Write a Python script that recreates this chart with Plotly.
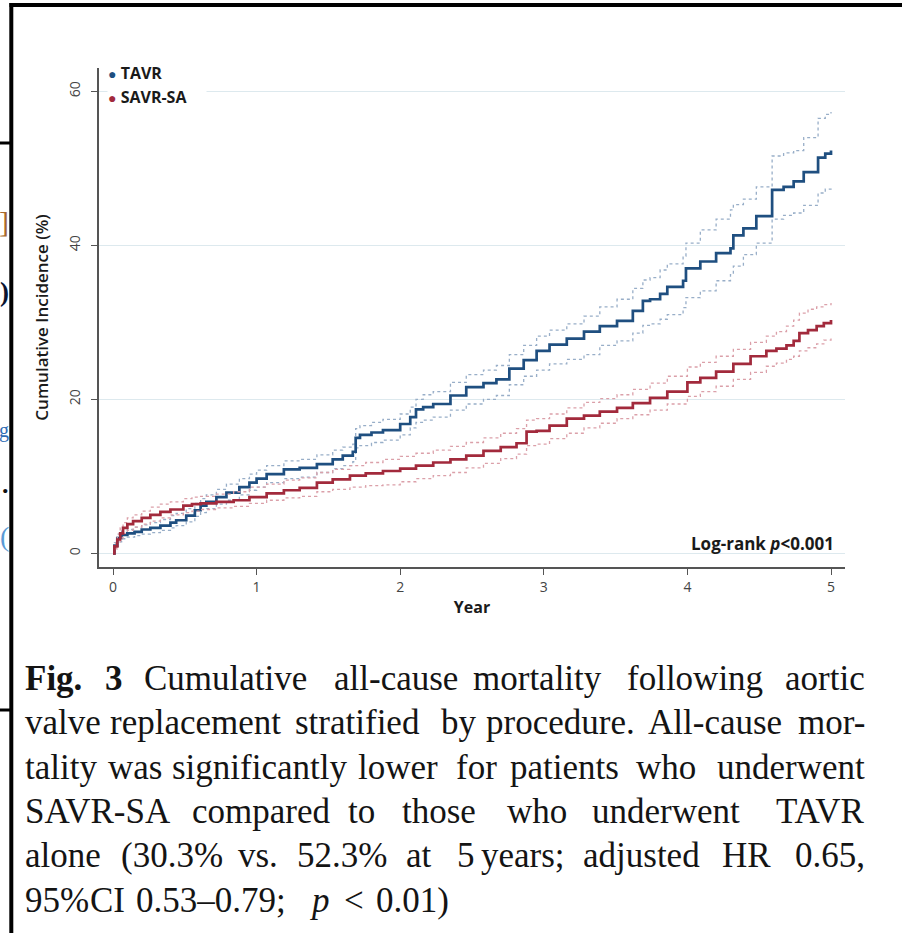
import plotly.graph_objects as go

# ---------------- data ----------------
tavr_years = [0, 0.01, 0.03, 0.06, 0.10, 0.15, 0.20, 0.26, 0.33, 0.40,
              0.44, 0.51, 0.57, 0.61, 0.65, 0.72, 0.79, 0.88, 0.95, 1.00,
              1.07, 1.19, 1.30, 1.42, 1.53, 1.60, 1.67, 1.69, 1.72, 1.80,
              1.88, 2.00, 2.07, 2.11, 2.16, 2.23, 2.35, 2.46, 2.58, 2.67,
              2.76, 2.86, 2.95, 3.04, 3.16, 3.28, 3.39, 3.51, 3.62, 3.69,
              3.74, 3.81, 3.86, 3.97, 3.99, 4.09, 4.20, 4.30, 4.32, 4.39,
              4.48, 4.59, 4.67, 4.74, 4.81, 4.91, 4.96, 5.00]
tavr_est = [0, 1.0, 2.0, 2.4, 2.6, 2.8, 3.1, 3.3, 3.6, 4.0,
            4.3, 4.9, 5.6, 6.2, 6.7, 7.3, 7.9, 8.6, 9.2, 9.7,
            10.3, 10.9, 11.1, 11.6, 12.2, 12.7, 13.2, 15.0, 15.4, 15.7,
            16.0, 16.8, 17.7, 18.7, 19.0, 19.4, 20.5, 21.6, 22.1, 22.6,
            24.0, 25.1, 26.3, 27.1, 27.9, 28.8, 29.5, 30.2, 31.5, 32.8,
            33.0, 33.7, 34.6, 35.4, 37.0, 37.9, 39.0, 39.6, 41.3, 42.2,
            43.8, 47.2, 47.6, 48.3, 49.5, 51.4, 51.9, 52.3]
tavr_hi = [0, 1.4, 2.5, 2.9, 3.1, 3.4, 3.7, 4.0, 4.4, 4.9,
           5.2, 5.8, 6.5, 7.1, 7.6, 8.3, 9.0, 9.7, 10.3, 10.8,
           11.4, 12.0, 12.2, 12.8, 13.4, 13.8, 14.2, 16.2, 16.6, 17.0,
           17.4, 18.1, 19.0, 20.0, 20.6, 21.0, 22.2, 23.2, 23.8, 24.4,
           25.8, 27.0, 28.2, 29.0, 29.8, 30.8, 32.0, 33.0, 34.4, 35.5,
           35.8, 36.8, 37.6, 38.6, 40.3, 42.0, 43.4, 44.6, 45.3, 46.0,
           47.6, 51.6, 52.0, 52.3, 54.0, 56.5, 57.0, 57.3]
tavr_lo = [0, 0.7, 1.5, 1.9, 2.1, 2.3, 2.5, 2.7, 3.0, 3.3,
           3.6, 4.1, 4.8, 5.3, 5.8, 6.4, 6.9, 7.6, 8.2, 8.6,
           9.2, 9.7, 9.9, 10.5, 11.0, 11.4, 11.9, 13.7, 14.0, 14.4,
           14.7, 15.4, 16.3, 17.0, 17.3, 17.7, 18.6, 19.4, 20.0, 20.5,
           21.9, 23.0, 23.8, 24.6, 25.2, 25.8, 27.0, 27.6, 28.6, 29.6,
           29.8, 30.4, 31.0, 31.9, 33.2, 34.1, 35.4, 36.2, 37.3, 38.8,
           40.3, 43.4, 43.9, 44.2, 45.2, 46.8, 47.3, 47.6]

savr_years = [0, 0.01, 0.03, 0.05, 0.07, 0.10, 0.14, 0.20, 0.26, 0.33,
              0.40, 0.49, 0.55, 0.61, 0.72, 0.84, 0.95, 1.07, 1.19, 1.30,
              1.42, 1.53, 1.65, 1.76, 1.88, 2.00, 2.11, 2.23, 2.35, 2.46,
              2.58, 2.70, 2.81, 2.88, 2.95, 3.04, 3.16, 3.28, 3.39, 3.51,
              3.62, 3.74, 3.86, 4.00, 4.09, 4.20, 4.32, 4.44, 4.55, 4.62,
              4.69, 4.74, 4.78, 4.84, 4.90, 4.95, 5.00]
savr_est = [0, 0.9, 1.8, 2.6, 3.3, 3.8, 4.2, 4.6, 5.0, 5.4,
            5.7, 6.2, 6.4, 6.5, 6.7, 6.9, 7.3, 7.8, 8.2, 8.5,
            9.2, 9.6, 10.1, 10.4, 10.7, 11.0, 11.4, 11.8, 12.2, 12.7,
            13.3, 13.8, 14.3, 15.8, 15.9, 16.6, 17.5, 17.9, 18.4, 18.9,
            19.5, 20.2, 21.0, 22.2, 22.8, 23.6, 24.6, 25.6, 26.3, 26.6,
            27.0, 27.6, 28.6, 29.0, 29.5, 29.9, 30.3]
savr_hi = [0, 1.3, 2.5, 3.3, 4.0, 4.6, 5.0, 5.5, 6.0, 6.4,
           6.7, 7.1, 7.3, 7.4, 7.7, 8.0, 8.6, 9.0, 9.5, 9.8,
           10.5, 10.9, 11.4, 11.8, 12.2, 12.6, 13.0, 13.4, 13.9, 14.4,
           15.0, 15.6, 16.2, 17.3, 17.5, 18.1, 18.9, 19.6, 20.1, 20.6,
           21.3, 22.1, 23.0, 24.2, 24.8, 25.6, 26.5, 27.4, 28.2, 28.8,
           29.5, 30.3, 31.2, 31.7, 32.0, 32.3, 32.5]
savr_lo = [0, 0.6, 1.3, 2.0, 2.6, 3.0, 3.4, 3.8, 4.2, 4.6,
           5.0, 5.3, 5.5, 5.7, 5.9, 6.1, 6.5, 6.9, 7.2, 7.4,
           8.0, 8.3, 8.6, 8.8, 8.9, 9.3, 9.7, 10.1, 10.5, 11.1,
           11.7, 12.3, 12.9, 14.0, 14.2, 14.9, 15.6, 16.3, 16.9, 17.5,
           18.0, 18.6, 19.4, 20.4, 21.0, 21.7, 22.6, 23.5, 24.3, 24.7,
           25.2, 25.6, 26.3, 26.7, 27.2, 27.7, 28.0]

x_ticks = [0, 1, 2, 3, 4, 5]
y_ticks = [0, 20, 40, 60]
series_names = ["TAVR", "SAVR-SA"]

# ---------------- styling ----------------
W, H = 902, 933
L, R, T, B = 99, 845, 68, 567
BLUE, BLUE_CI = "#1f4f80", "#98aec8"
RED, RED_CI = "#a22a3c", "#dba0a9"
SANS = "Open Sans"
SERIF = "Liberation Serif"


def px(x):
    return (x - L) / (R - L)


def py(y):
    return (B - y) / (B - T)


fig = go.Figure()


def add_group(years, est, lo, hi, color, ci_color, name):
    for band in (hi, lo):
        fig.add_trace(go.Scatter(x=years, y=band, mode="lines", line_shape="hv",
                                 line=dict(color=ci_color, width=1.3, dash="dot"),
                                 showlegend=False, hoverinfo="skip"))
    fig.add_trace(go.Scatter(x=years, y=est, mode="lines", line_shape="hv",
                             line=dict(color=color, width=2.7),
                             name=name, showlegend=False))


add_group(tavr_years, tavr_est, tavr_lo, tavr_hi, BLUE, BLUE_CI, series_names[0])
add_group(savr_years, savr_est, savr_lo, savr_hi, RED, RED_CI, series_names[1])

fig.update_layout(
    width=W, height=H,
    margin=dict(l=L, r=W - R, t=T, b=H - B, pad=0),
    paper_bgcolor="white", plot_bgcolor="white",
    showlegend=False,
    font=dict(family=SANS, color="#222"),
    xaxis=dict(range=[-14 / 143.6, 732 / 143.6], tickvals=x_ticks,
               ticks="outside", ticklen=6, tickwidth=1.3, tickcolor="#555",
               tickfont=dict(size=14, color="#444", family=SANS),
               showline=True, linecolor="#555", linewidth=1.6,
               showgrid=False, zeroline=False,
               title=dict(text="Year", standoff=7,
                          font=dict(size=16, color="#1a1a1a", family=SANS, weight=700))),
    yaxis=dict(range=[-14 / 7.917, 499 / 7.917], tickvals=y_ticks,
               ticks="outside", ticklen=6, tickwidth=1.3, tickcolor="#555",
               tickangle=-90, ticklabelstandoff=6,
               tickfont=dict(size=14, color="#444", family=SANS),
               showline=True, linecolor="#555", linewidth=1.6,
               showgrid=True, gridcolor="#dde9ee", gridwidth=1, zeroline=False,
               title=dict(text="Cumulative Incidence (%)", standoff=12,
                          font=dict(size=17, color="#1a1a1a", family=SANS, weight=600))),
)

anns = []
# legend (bullet + label); the white box hides the 60 gridline like the original
for label, col, yc in ((series_names[0], BLUE, 73), (series_names[1], RED, 97)):
    anns.append(dict(xref="paper", yref="paper", x=px(107), y=py(yc),
                     xanchor="left", yanchor="middle", showarrow=False,
                     text=f"<span style='color:{col};font-size:14px'>●</span> <b>{label}</b>",
                     font=dict(family=SANS, size=16, color="#1a1a1a"),
                     bgcolor="white", width=98, height=24, align="left", borderpad=0))

anns.append(dict(xref="paper", yref="paper", x=px(836), y=py(543),
                 xanchor="right", yanchor="middle", showarrow=False,
                 text="<b>Log-rank <i>p</i>&lt;0.001</b>",
                 font=dict(family=SANS, size=17, color="#1a1a1a")))

# caption, set word by word (left / right edges measured) to mimic justified lines
caption_lines = [
    (678, True, [("<b>Fig.</b>", 25, 80), ("<b>3</b>", 105, 122), ("Cumulative", 142, 308),
                 ("all-cause", 333, 458), ("mortality", 472, 603), ("following", 628, 762),
                 ("aortic", 783, 865)]),
    (723, True, [("valve", 25, 100), ("replacement", 108, 283), ("stratified", 297, 418),
                 ("by", 440, 477), ("procedure.", 487, 633), ("All-cause", 650, 780),
                 ("mor-", 795, 865)]),
    (767, True, [("tality", 25, 95), ("was", 110, 160), ("significantly", 175, 343),
                 ("lower", 358, 437), ("for", 455, 498), ("patients", 508, 620),
                 ("who", 635, 697), ("underwent", 712, 865)]),
    (811, True, [("SAVR-SA", 25, 167), ("compared", 192, 330), ("to", 343, 380),
                 ("those", 398, 480), ("who", 507, 567), ("underwent", 588, 743),
                 ("TAVR", 765, 865)]),
    (855, True, [("alone", 25, 98), ("(30.3%", 122, 222), ("vs.", 238, 277),
                 ("52.3%", 297, 387), ("at", 400, 437), ("5", 457, 475),
                 ("years;", 482, 563), ("adjusted", 582, 700), ("HR", 720, 773),
                 ("0.65,", 793, 865)]),
    (900, False, [("95%", 25, 80), ("CI", 92, 123), ("0.53–0.79;", 132, 290),
                  ("<i>p</i>", 310, 328), ("&lt;", 340, 368), ("0.01)", 378, 447)]),
]
for yc, justified, words in caption_lines:
    n = len(words)
    for i, (word, xl, xr) in enumerate(words):
        if i == 0:
            xa, xp = "left", xl - 1
        elif i == n - 1 and justified:
            xa, xp = "right", xr + 1
        else:
            xa, xp = "center", (xl + xr) / 2
        anns.append(dict(xref="paper", yref="paper", x=px(xp), y=py(yc),
                         xanchor=xa, yanchor="middle", showarrow=False,
                         text=word, borderpad=0,
                         font=dict(family=SERIF, size=35, color="#141414")))

# slivers of neighbouring page text visible at the far left edge
fragments = [("]", 221, "#a6692e", 30, False),
             (")", 292, "#0b1530", 27, True),
             ("g", 430, "#2f6db5", 20, False),
             (".", 484, "#111111", 26, True),
             ("(", 536, "#5b9bd5", 28, False)]
for ch, yc, col, size, bold in fragments:
    anns.append(dict(xref="paper", yref="paper", x=px(9.5), y=py(yc),
                     xanchor="right", yanchor="middle", showarrow=False,
                     text=f"<b>{ch}</b>" if bold else ch, borderpad=0,
                     font=dict(family=SERIF, size=size, color=col)))
fig.update_layout(annotations=anns)

# black frame lines of the page crop
shapes = [
    dict(type="line", xref="paper", yref="paper", x0=px(9.5), x1=px(W + 2),
         y0=py(5), y1=py(5), line=dict(color="black", width=4)),
    dict(type="line", xref="paper", yref="paper", x0=px(11.3), x1=px(11.3),
         y0=py(3), y1=py(H + 2), line=dict(color="black", width=4)),
    dict(type="line", xref="paper", yref="paper", x0=px(-2), x1=px(11),
         y0=py(143), y1=py(143), line=dict(color="black", width=3)),
    dict(type="line", xref="paper", yref="paper", x0=px(-2), x1=px(11),
         y0=py(710), y1=py(710), line=dict(color="black", width=3)),
]
fig.update_layout(shapes=shapes)

fig.write_html("out.html", config={"displayModeBar": False},
               post_script="document.body.style.margin='0px';")
